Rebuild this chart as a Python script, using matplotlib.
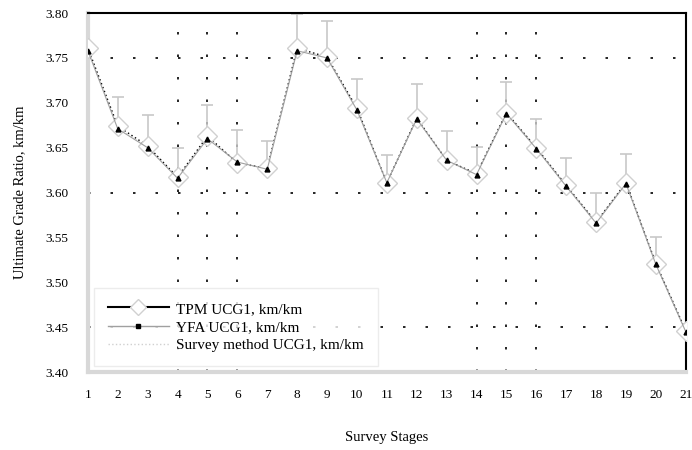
import matplotlib
matplotlib.use("Agg")
import matplotlib.pyplot as plt
import numpy as np

stages = list(range(1, 22))
tick_labels = [str(s) for s in stages]
y_ticks = [3.40, 3.45, 3.50, 3.55, 3.60, 3.65, 3.70, 3.75, 3.80]
y_tick_labels = ["%.2f" % v for v in y_ticks]

tpm = [3.761, 3.674, 3.652, 3.617, 3.663, 3.633, 3.627, 3.761, 3.751, 3.694,
       3.611, 3.683, 3.636, 3.621, 3.689, 3.650, 3.608, 3.567, 3.611, 3.521, 3.446]
yfa = [3.758, 3.671, 3.650, 3.616, 3.660, 3.634, 3.626, 3.758, 3.750, 3.692,
       3.611, 3.682, 3.636, 3.620, 3.688, 3.649, 3.607, 3.566, 3.610, 3.520, 3.445]
survey = [3.760, 3.672, 3.651, 3.617, 3.662, 3.633, 3.627, 3.760, 3.751, 3.693,
          3.611, 3.683, 3.636, 3.621, 3.689, 3.650, 3.608, 3.567, 3.611, 3.521, 3.446]
survey_err = [0.0, 0.034, 0.035, 0.033, 0.036, 0.037, 0.031, 0.039, 0.040, 0.034,
              0.031, 0.038, 0.033, 0.030, 0.034, 0.032, 0.030, 0.032, 0.032, 0.029, 0.0]

plt.rcParams['font.family'] = ['Liberation Serif', 'DejaVu Serif']

fig = plt.figure(figsize=(6.92, 4.5), dpi=100)
ax = fig.add_axes([0.127, 0.173, 0.864, 0.798])

# grid-like dotted lines
for yv in [3.75, 3.60, 3.45]:
    ax.axhline(yv, color='black', lw=1.2, ls=(0, (1.5, 12)), zorder=1)
for xv in [4, 5, 6, 14, 15, 16]:
    ax.axvline(xv, color='black', lw=1.2, ls=(0, (1.5, 12)), zorder=1)

# error bars (upper only)
err = np.array(survey_err)
ax.errorbar(stages, survey, yerr=[np.zeros_like(err), err], fmt='none',
            ecolor='#c8c8c8', elinewidth=1.2, capsize=4, capthick=1.2, zorder=2)

l1, = ax.plot(stages, tpm, color='black', lw=1.0, ls=(0, (1, 2)), marker='D', ms=10,
              mfc='white', mec='#d0d0d0', mew=1.0, zorder=3)
l2, = ax.plot(stages, yfa, color='#a0a0a0', lw=0.8, marker='^', ms=3.5,
              mfc='black', mec='black', zorder=4)
l3, = ax.plot(stages, survey, color='#d8d8d8', lw=0.8, ls=':', zorder=2)

# legend proxies
h1, = ax.plot([], [], color='black', lw=1.5, marker='D', ms=8, mfc='white', mec='#d0d0d0')
h2, = ax.plot([], [], color='#a0a0a0', lw=1.0, marker='s', ms=3.5, mfc='black', mec='black')
h3, = ax.plot([], [], color='#d0d0d0', lw=1.0, ls=':')

ax.set_xlim(1, 21)
ax.set_ylim(3.40, 3.80)
ax.set_xticks(stages)
ax.set_xticklabels(tick_labels)
ax.set_yticks(y_ticks)
ax.set_yticklabels(y_tick_labels)
ax.tick_params(axis='x', length=0, labelsize=9.5, pad=12)
ax.tick_params(axis='y', length=0, labelsize=9.5, pad=14)

for side in ['left', 'bottom']:
    ax.spines[side].set_color('#d8d8d8')
    ax.spines[side].set_linewidth(3)
for side in ['top', 'right']:
    ax.spines[side].set_color('black')
    ax.spines[side].set_linewidth(1.5)

ax.set_xlabel('Survey Stages', fontsize=10.5, labelpad=22)
ax.set_ylabel('Ultimate Grade Ratio, km/km', fontsize=10.5, labelpad=14)

leg = ax.legend(handles=[h1, h2, h3],
                labels=['TPM UCG1, km/km', 'YFA UCG1, km/km', 'Survey method UCG1, km/km'],
                loc='lower left', bbox_to_anchor=(0.0, 0.0),
                fontsize=11, frameon=True, fancybox=False, edgecolor='#e8e8e8',
                handlelength=4.0, borderpad=0.9, labelspacing=0.3, handletextpad=0.5,
                borderaxespad=0.4)

fig.savefig('out.png', dpi=100)
